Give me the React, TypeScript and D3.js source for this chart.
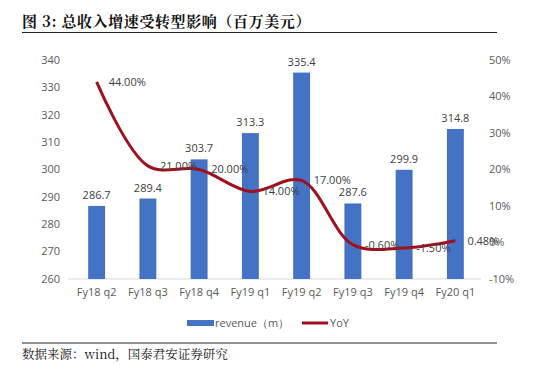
import * as d3 from "d3";
import {useEffect, useRef} from "react";

const categories = ["Fy18 q2", "Fy18 q3", "Fy18 q4", "Fy19 q1", "Fy19 q2", "Fy19 q3", "Fy19 q4", "Fy20 q1"];
const revenue = [286.7, 289.4, 303.7, 313.3, 335.4, 287.6, 299.9, 314.8];
const yoy = [44, 21, 20, 14, 17, -0.6, -1.5, 0.48];
const leftTicks = [260, 270, 280, 290, 300, 310, 320, 330, 340];
const rightTicks = [-10, 0, 10, 20, 30, 40, 50];

function App() {
  const ref = useRef<SVGSVGElement>(null);

  useEffect(() => {
    const svg = d3.select(ref.current);
    svg.selectAll("*").remove();

    const W = 551, H = 365;
    const left = 71, right = 481, top = 60, bottom = 279;
    const grey = "#595959";
    const font = "'Open Sans', 'DejaVu Sans', sans-serif";
    const serif = "'Noto Serif CJK SC', 'Noto Sans CJK SC', serif";

    svg.append("rect").attr("width", W).attr("height", H).attr("fill", "#fff");

    // title
    svg.append("text")
      .attr("x", 22).attr("y", 27)
      .attr("font-family", serif).attr("font-size", 15).attr("font-weight", "bold")
      .attr("letter-spacing", 0.6)
      .attr("fill", "#111")
      .text("图 3:  总收入增速受转型影响（百万美元）");
    svg.append("line")
      .attr("x1", 22).attr("x2", 497).attr("y1", 32.5).attr("y2", 32.5)
      .attr("stroke", "#222").attr("stroke-width", 1.2);

    const x = d3.scaleBand().domain(categories).range([left, right]).paddingInner(0.67).paddingOuter(0.335);
    const y = d3.scaleLinear().domain([260, 340]).range([bottom, top]);
    const y2 = d3.scaleLinear().domain([-10, 50]).range([bottom, top]);

    // left axis labels
    svg.append("g").selectAll("text").data(leftTicks).enter().append("text")
      .attr("x", 60).attr("y", d => y(d)).attr("dy", "0.35em")
      .attr("text-anchor", "end").attr("font-family", font).attr("font-size", 11)
      .attr("fill", grey).text(d => d);

    // right axis labels
    svg.append("g").selectAll("text").data(rightTicks).enter().append("text")
      .attr("x", 489).attr("y", d => y2(d)).attr("dy", "0.35em")
      .attr("text-anchor", "start").attr("font-family", font).attr("font-size", 11)
      .attr("fill", grey).text(d => d + "%");

    // baseline
    svg.append("line")
      .attr("x1", left - 3).attr("x2", right).attr("y1", bottom).attr("y2", bottom)
      .attr("stroke", "#d9d9d9").attr("stroke-width", 1);

    // bars
    svg.append("g").selectAll("rect").data(revenue).enter().append("rect")
      .attr("x", (d, i) => x(categories[i])!)
      .attr("y", d => y(d))
      .attr("width", x.bandwidth())
      .attr("height", d => bottom - y(d))
      .attr("fill", "#4472c4");

    // bar labels
    svg.append("g").selectAll("text").data(revenue).enter().append("text")
      .attr("x", (d, i) => x(categories[i])! + x.bandwidth() / 2)
      .attr("y", d => y(d) - 7)
      .attr("text-anchor", "middle").attr("font-family", font).attr("font-size", 11)
      .attr("fill", "#404040").text(d => d.toFixed(1));

    // x labels
    svg.append("g").selectAll("text").data(categories).enter().append("text")
      .attr("x", d => x(d)! + x.bandwidth() / 2).attr("y", bottom + 17)
      .attr("text-anchor", "middle").attr("font-family", font).attr("font-size", 11)
      .attr("fill", grey).text(d => d);

    // YoY line
    const line = d3.line<number>()
      .x((d, i) => x(categories[i])! + x.bandwidth() / 2)
      .y(d => y2(d))
      .curve(d3.curveCatmullRom.alpha(0.5));
    svg.append("path").datum(yoy)
      .attr("d", line)
      .attr("fill", "none").attr("stroke", "#a0101e").attr("stroke-width", 3);

    // line labels
    svg.append("g").selectAll("text").data(yoy).enter().append("text")
      .attr("x", (d, i) => x(categories[i])! + x.bandwidth() / 2 + 12)
      .attr("y", d => y2(d)).attr("dy", "0.35em")
      .attr("font-family", font).attr("font-size", 11)
      .attr("fill", "#404040").text(d => d.toFixed(2) + "%");

    // legend
    const lg = svg.append("g").attr("transform", "translate(0,323)");
    lg.append("rect").attr("x", 187).attr("y", -3).attr("width", 27).attr("height", 6).attr("fill", "#4472c4");
    lg.append("text").attr("x", 215).attr("y", 0).attr("dy", "0.35em")
      .attr("font-family", font).attr("font-size", 11).attr("fill", grey).text("revenue（m）");
    lg.append("line").attr("x1", 302).attr("x2", 328).attr("y1", 0).attr("y2", 0)
      .attr("stroke", "#a0101e").attr("stroke-width", 3);
    lg.append("text").attr("x", 330).attr("y", 0).attr("dy", "0.35em")
      .attr("font-family", font).attr("font-size", 11).attr("fill", grey).text("YoY");

    // footer
    svg.append("line")
      .attr("x1", 22).attr("x2", 497).attr("y1", 343).attr("y2", 343)
      .attr("stroke", "#222").attr("stroke-width", 1);
    svg.append("text")
      .attr("x", 22).attr("y", 359)
      .attr("font-family", serif).attr("font-size", 12.5)
      .attr("fill", "#111")
      .text("数据来源：wind，国泰君安证券研究");
  });

  return (
    <svg ref={ref} width={551} height={365} style={{position: "absolute", left: 0, top: 0}}></svg>
  );
}

export default App;
